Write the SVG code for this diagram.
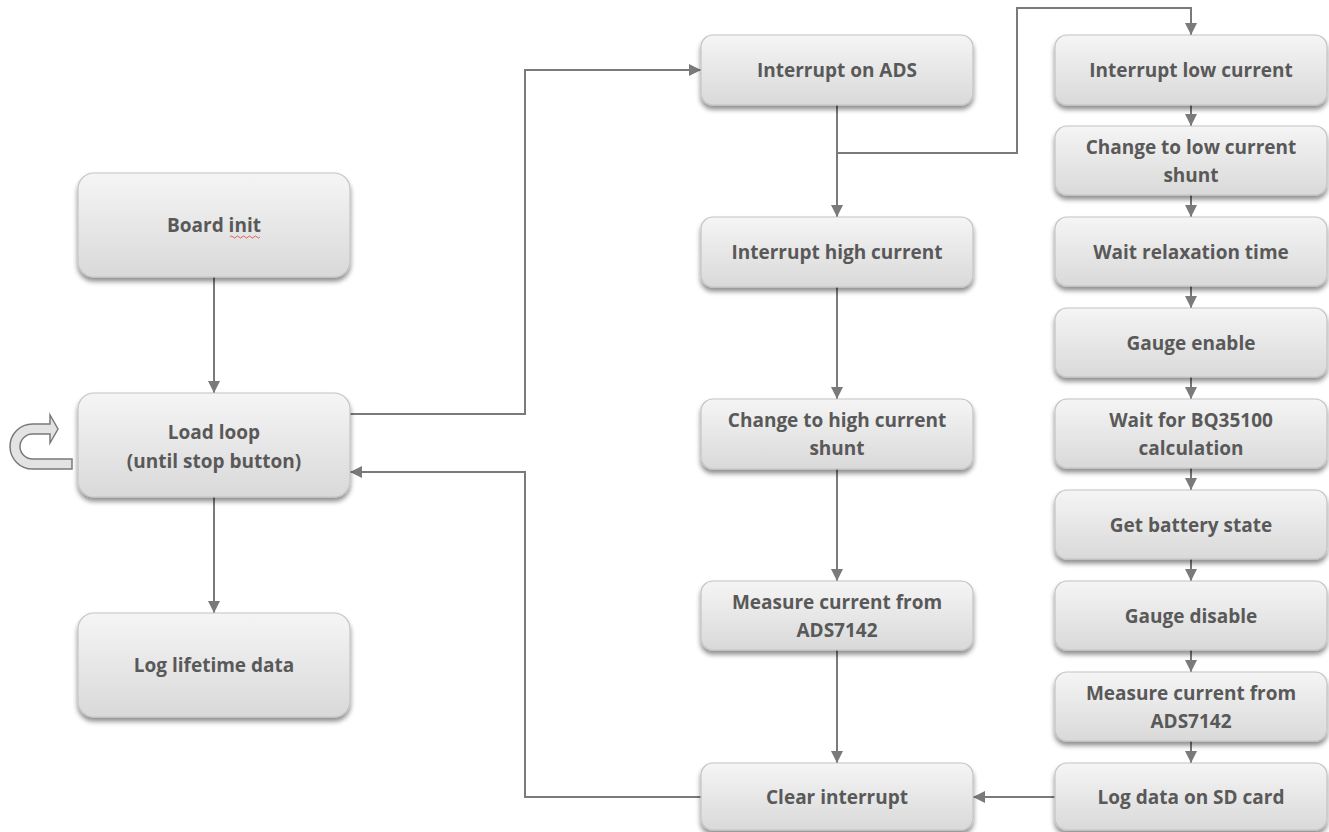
<svg xmlns="http://www.w3.org/2000/svg" width="1329" height="832" viewBox="0 0 1329 832">
<defs>
<linearGradient id="g" x1="0" y1="0" x2="0" y2="1">
<stop offset="0" stop-color="#f5f5f5"/>
<stop offset="1" stop-color="#d9d9d9"/>
</linearGradient>
<filter id="sh" x="-10%" y="-10%" width="120%" height="140%">
<feGaussianBlur in="SourceAlpha" stdDeviation="2.5"/>
<feOffset dx="0" dy="4" result="b"/>
<feComponentTransfer><feFuncA type="linear" slope="0.45"/></feComponentTransfer>
<feMerge><feMergeNode/><feMergeNode in="SourceGraphic"/></feMerge>
</filter>
<marker id="ah" viewBox="0 0 12 12" refX="12" refY="6" markerWidth="12" markerHeight="12" markerUnits="userSpaceOnUse" orient="auto">
<path d="M0,0 L12,6 L0,12 Z" fill="#7a7a7a"/>
</marker>
</defs>
<style>
.box{fill:url(#g);stroke:#c4c4c4;stroke-width:1.2;filter:url(#sh)}
.t{font-family:"Open Sans",Lato,"Liberation Sans",sans-serif;font-weight:bold;font-size:19px;fill:#595959;text-anchor:middle}
.c{fill:none;stroke:#7a7a7a;stroke-width:2}
.a{marker-end:url(#ah)}
</style>
<rect width="1329" height="832" fill="#ffffff"/>

<g id="connectors">
<path class="c a" d="M214,277 V393"/>
<path class="c a" d="M214,497 V613"/>
<path class="c a" d="M350,414 H525 V70 H701"/>
<path class="c a" d="M837,105 V217"/>
<path class="c a" d="M837,153 H1017 V8 H1191 V35"/>
<path class="c a" d="M837,287 V399"/>
<path class="c a" d="M837,469 V581"/>
<path class="c a" d="M837,650 V763"/>
<path class="c a" d="M701,797 H525 V472 H350"/>
<path class="c a" d="M1055,797 H973"/>
<path class="c a" d="M1191,105 V126"/>
<path class="c a" d="M1191,195 V217"/>
<path class="c a" d="M1191,286 V308"/>
<path class="c a" d="M1191,377 V399"/>
<path class="c a" d="M1191,468 V490"/>
<path class="c a" d="M1191,559 V581"/>
<path class="c a" d="M1191,650 V672"/>
<path class="c a" d="M1191,741 V763"/>
</g>

<g id="loop-icon">
<path d="M72,459 L72,469 L32.5,469 A22.5,22.5 0 0 1 32.5,424 L50,424 L50,415 L58,429 L50,443 L50,434 L32.5,434 A12.5,12.5 0 0 0 32.5,459 Z" fill="#e3e3e3" stroke="#7a7a7a" stroke-width="1.5" stroke-linejoin="miter"/>
</g>

<g id="board-init">
<rect class="box" x="78" y="173" width="272" height="104" rx="16"/>
<text class="t" x="214" y="232">Board init</text>
<path d="M230,237 q1.5,-2 3,0 t3,0 t3,0 t3,0 t3,0 t3,0 t3,0 t3,0 t3,0 t3,0" fill="none" stroke="#e05050" stroke-width="0.9"/>
</g>
<g id="load-loop">
<rect class="box" x="78" y="393" width="272" height="104" rx="16"/>
<text class="t" x="214" y="439">Load loop</text>
<text class="t" x="214" y="468">(until stop button)</text>
</g>
<g id="log-lifetime">
<rect class="box" x="78" y="613" width="272" height="104" rx="16"/>
<text class="t" x="214" y="672">Log lifetime data</text>
</g>

<g id="interrupt-ads">
<rect class="box" x="701" y="35" width="272" height="70" rx="12"/>
<text class="t" x="837" y="77">Interrupt on ADS</text>
</g>
<g id="interrupt-high">
<rect class="box" x="701" y="217" width="272" height="70" rx="12"/>
<text class="t" x="837" y="259">Interrupt high current</text>
</g>
<g id="change-high">
<rect class="box" x="701" y="399" width="272" height="70" rx="12"/>
<text class="t" x="837" y="427">Change to high current</text>
<text class="t" x="837" y="455">shunt</text>
</g>
<g id="measure-high">
<rect class="box" x="701" y="581" width="272" height="69" rx="12"/>
<text class="t" x="837" y="609">Measure current from</text>
<text class="t" x="837" y="637">ADS7142</text>
</g>
<g id="clear-interrupt">
<rect class="box" x="701" y="763" width="272" height="67" rx="12"/>
<text class="t" x="837" y="804">Clear interrupt</text>
</g>

<g id="interrupt-low">
<rect class="box" x="1055" y="35" width="272" height="70" rx="12"/>
<text class="t" x="1191" y="77">Interrupt low current</text>
</g>
<g id="change-low">
<rect class="box" x="1055" y="126" width="272" height="69" rx="12"/>
<text class="t" x="1191" y="154">Change to low current</text>
<text class="t" x="1191" y="182">shunt</text>
</g>
<g id="wait-relax">
<rect class="box" x="1055" y="217" width="272" height="69" rx="12"/>
<text class="t" x="1191" y="259">Wait relaxation time</text>
</g>
<g id="gauge-enable">
<rect class="box" x="1055" y="308" width="272" height="69" rx="12"/>
<text class="t" x="1191" y="350">Gauge enable</text>
</g>
<g id="wait-bq">
<rect class="box" x="1055" y="399" width="272" height="69" rx="12"/>
<text class="t" x="1191" y="427">Wait for BQ35100</text>
<text class="t" x="1191" y="455">calculation</text>
</g>
<g id="battery-state">
<rect class="box" x="1055" y="490" width="272" height="69" rx="12"/>
<text class="t" x="1191" y="532">Get battery state</text>
</g>
<g id="gauge-disable">
<rect class="box" x="1055" y="581" width="272" height="69" rx="12"/>
<text class="t" x="1191" y="623">Gauge disable</text>
</g>
<g id="measure-low">
<rect class="box" x="1055" y="672" width="272" height="69" rx="12"/>
<text class="t" x="1191" y="700">Measure current from</text>
<text class="t" x="1191" y="728">ADS7142</text>
</g>
<g id="log-sd">
<rect class="box" x="1055" y="763" width="272" height="67" rx="12"/>
<text class="t" x="1191" y="804">Log data on SD card</text>
</g>
</svg>
